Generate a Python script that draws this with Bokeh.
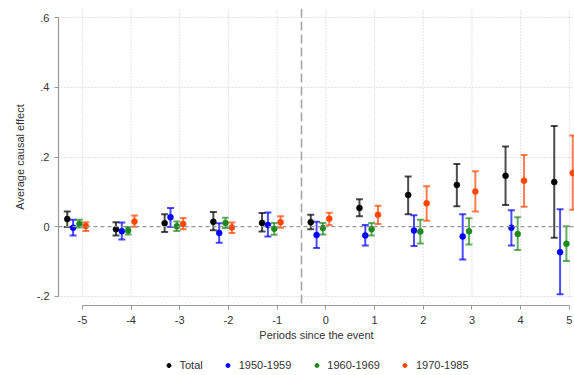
from bokeh.plotting import figure
from bokeh.layouts import column
from bokeh.models import (ColumnDataSource, Whisker, TeeHead, Span, FixedTicker,
                          Range1d, Legend, LegendItem, CustomJSTickFormatter)
from bokeh.embed import file_html
from bokeh.resources import INLINE

# ---- data ----
periods = [-5, -4, -3, -2, -1, 0, 1, 2, 3, 4, 5]
series_names = ["Total", "1950-1959", "1960-1969", "1970-1985"]

total_est = [0.022, -0.007, 0.010, 0.014, 0.011, 0.013, 0.054, 0.091, 0.120, 0.146, 0.128]
total_lo = [-0.001, -0.025, -0.015, -0.010, -0.014, -0.007, 0.030, 0.036, 0.059, 0.062, -0.032]
total_hi = [0.044, 0.013, 0.036, 0.042, 0.039, 0.034, 0.079, 0.144, 0.180, 0.230, 0.289]

s50_est = [-0.003, -0.013, 0.027, -0.018, 0.005, -0.024, -0.025, -0.011, -0.028, -0.003, -0.073]
s50_lo = [-0.025, -0.037, -0.001, -0.046, -0.028, -0.061, -0.054, -0.055, -0.094, -0.054, -0.194]
s50_hi = [0.020, 0.012, 0.054, 0.010, 0.041, 0.014, 0.005, 0.033, 0.036, 0.047, 0.050]

s60_est = [0.008, -0.011, 0.001, 0.011, -0.006, -0.004, -0.007, -0.014, -0.013, -0.021, -0.049]
s60_lo = [-0.002, -0.022, -0.012, -0.004, -0.023, -0.022, -0.025, -0.048, -0.051, -0.067, -0.098]
s60_hi = [0.020, -0.001, 0.015, 0.026, 0.011, 0.011, 0.011, 0.020, 0.024, 0.027, 0.001]

s70_est = [0.002, 0.015, 0.008, -0.002, 0.013, 0.023, 0.034, 0.067, 0.101, 0.132, 0.154]
s70_lo = [-0.012, 0.000, -0.007, -0.018, -0.003, 0.004, 0.008, 0.017, 0.044, 0.057, 0.049]
s70_hi = [0.013, 0.032, 0.025, 0.012, 0.030, 0.040, 0.060, 0.116, 0.159, 0.206, 0.262]

offsets = [-0.31, -0.19, -0.06, 0.07]
colors = ["#000000", "#0000FF", "#1E8A1E", "#FF4500"]

y_ticks = [-0.2, 0.0, 0.2, 0.4, 0.6]
event_x = -0.5

FONT = "Liberation Sans"

p = figure(width=574, height=354, output_backend="svg", toolbar_location=None,
           x_range=Range1d(-5.49, 5.106), y_range=Range1d(-0.226, 0.626),
           min_border_left=58, min_border_right=0, min_border_top=8, min_border_bottom=49)
p.outline_line_color = None
p.background_fill_color = "white"
p.border_fill_color = "white"

# grid
p.xgrid.visible = False
p.ygrid.ticker = FixedTicker(ticks=[t for t in y_ticks if t != 0])
p.ygrid.grid_line_color = "#c8c8c8"
p.ygrid.grid_line_dash = "1 2"
p.ygrid.grid_line_width = 1
p.segment(x0=periods, y0=[y_ticks[0]] * len(periods), x1=periods,
          y1=[0.626] * len(periods), line_color="#c8c8c8", line_dash="1 2", line_width=1)

# reference lines
p.add_layout(Span(location=0, dimension="width", line_color="#999999",
                  line_dash="4 3", line_width=1.2))
p.add_layout(Span(location=event_x, dimension="height", line_color="#a6a6a6",
                  line_dash="9 4", line_width=1.6))

all_est = [total_est, s50_est, s60_est, s70_est]
all_lo = [total_lo, s50_lo, s60_lo, s70_lo]
all_hi = [total_hi, s50_hi, s60_hi, s70_hi]

for name, est, lo, hi, off, col in zip(series_names, all_est, all_lo, all_hi, offsets, colors):
    src = ColumnDataSource(dict(x=[v + off for v in periods], est=est, lo=lo, hi=hi))
    w = Whisker(base="x", upper="hi", lower="lo", source=src, dimension="height",
                line_color=col, line_alpha=0.7, line_width=2,
                upper_head=TeeHead(size=7, line_color=col, line_alpha=0.7, line_width=2),
                lower_head=TeeHead(size=7, line_color=col, line_alpha=0.7, line_width=2))
    p.add_layout(w)
    p.scatter("x", "est", source=src, size=6, color=col, line_color=col, line_width=0.5)

# axes
p.xaxis.ticker = FixedTicker(ticks=periods)
p.xaxis.bounds = (periods[0], periods[-1])
p.xaxis.axis_label = "Periods since the event"
p.xaxis.formatter = CustomJSTickFormatter(code="return tick.toString();")
p.yaxis.ticker = FixedTicker(ticks=y_ticks)
p.yaxis.bounds = (y_ticks[0], y_ticks[-1])
p.yaxis.axis_label = "Average causal effect"
p.yaxis.formatter = CustomJSTickFormatter(code="""
const s = (Math.round(tick*10)/10).toString();
return s.replace(/^(-?)0\\./, "$1.");
""")

for ax in (p.xaxis[0], p.yaxis[0]):
    ax.axis_line_color = "#999999"
    ax.axis_line_width = 1.2
    ax.major_tick_line_color = "#999999"
    ax.major_tick_in = 0
    ax.major_tick_out = 4
    ax.minor_tick_line_color = None
    ax.major_label_text_font = FONT
    ax.major_label_text_font_size = "11px"
    ax.major_label_text_color = "#333333"
    ax.axis_label_text_font = FONT
    ax.axis_label_text_font_size = "11px"
    ax.axis_label_text_font_style = "normal"
    ax.axis_label_text_color = "#333333"

p.xaxis.major_label_standoff = 6
p.xaxis.axis_label_standoff = 2
p.yaxis.major_label_standoff = 5
p.yaxis.axis_label_standoff = 8

# ---- legend strip (separate small figure below the chart) ----
lg = figure(width=574, height=21, output_backend="svg", toolbar_location=None,
            x_range=Range1d(0, 1), y_range=Range1d(0, 1),
            x_axis_location=None, y_axis_location=None,
            min_border_left=58, min_border_right=0, min_border_top=0, min_border_bottom=0)
lg.outline_line_color = None
lg.grid.visible = False
lg.background_fill_color = "white"
lg.border_fill_color = "white"

items = []
for name, est, col in zip(series_names, all_est, colors):
    # proxy renderer: its one point lies outside this strip's range, so only the legend glyph shows
    r = lg.scatter(x=[periods[0]], y=[est[0]], size=6, color=col)
    items.append(LegendItem(label=name, renderers=[r]))

legend = Legend(items=items, orientation="horizontal", location="center",
                border_line_color=None, background_fill_alpha=0,
                label_text_font=FONT, label_text_font_size="11px", label_text_color="#333333",
                glyph_width=10, glyph_height=10, label_height=14, label_standoff=6,
                spacing=20, padding=0, margin=0)
lg.add_layout(legend)

layout = column(p, lg, spacing=0)
open("out.html", "w").write(file_html(layout, INLINE))
